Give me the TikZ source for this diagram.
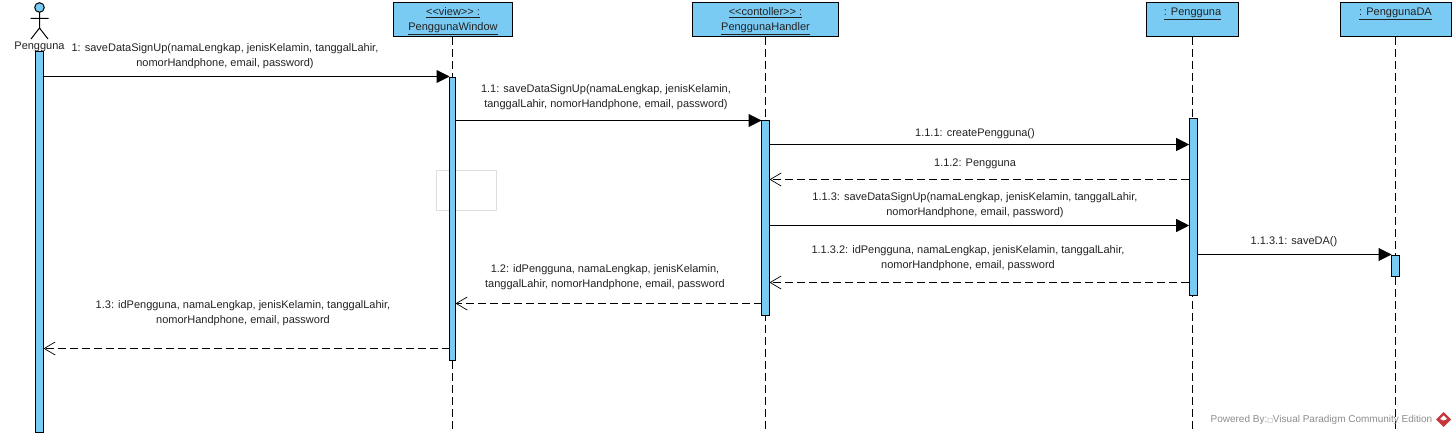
\documentclass[tikz,border=0pt]{standalone}
\usepackage{fontspec}
\setmainfont{Liberation Sans}
\newfontfamily\symfont{DejaVu Sans}
\usetikzlibrary{arrows.meta}
\definecolor{umlblue}{HTML}{7ACBF3}
\definecolor{umltext}{HTML}{222222}
\definecolor{logored}{HTML}{C4353C}
\tikzset{
  objbox/.style={draw=black,line width=1pt,fill=umlblue,outer sep=0pt,inner sep=0pt,minimum height=34.5pt,
    align=center,text=umltext,text height=22.5pt,text depth=0pt,font=\fontsize{11}{15}\selectfont},
  actbar/.style={draw=black,line width=1pt,fill=umlblue,outer sep=0pt,inner sep=0pt,minimum width=8pt},
  life/.style={line width=1pt,dash pattern=on 8pt off 4pt},
  call/.style={line width=1pt,-{Triangle[length=13pt,width=13pt]}},
  back/.style={line width=1pt,dash pattern=on 8pt off 4pt,-{Straight Barb[length=11pt,width=13pt,line width=.7pt]}},
  msg/.style={align=center,text=umltext,inner sep=0pt,font=\fontsize{11}{15}\selectfont}
}
\begin{document}
\begin{tikzpicture}[x=1pt,y=-1pt]
\useasboundingbox (0,0) rectangle (1456,436);
% faint empty frame behind the window bar
\node[draw=black!13,line width=1pt,minimum width=60pt,minimum height=40pt,inner sep=0pt] (ghostFrame) at (466.5,190.5) {};
% objects
\node[objbox,minimum width=119pt] (objWindow) at (453,19.75) {\underline{<{}<view>{}> :}\\\underline{PenggunaWindow}};
\node[objbox,minimum width=146pt] (objHandler) at (765.5,19.75) {\underline{<{}<contoller>{}> :}\\\underline{PenggunaHandler}};
\node[objbox,minimum width=91.5pt] (objUser) at (1192.5,19.75) {\underline{: Pengguna}\\~};
\node[objbox,minimum width=111pt] (objDA) at (1395.5,19.75) {\underline{: PenggunaDA}\\~};
% actor
\filldraw[draw=black,fill=umlblue,line width=1pt] (39.5,7.5) circle (4.8pt);
\draw[line width=1pt] (39.5,12.3) -- (39.5,28) (30.5,18.5) -- (48.5,18.5) (31,39) -- (39.5,28) -- (48,39);
\node[msg] (actorName) at (39.5,46.5) {Pengguna};
% lifelines
\coordinate (endWindow) at (452.5,431);
\coordinate (endHandler) at (765.5,431);
\coordinate (endUser) at (1192.5,431);
\coordinate (endDA) at (1395.5,431);
\draw[life] (objWindow.south -| endWindow) -- (endWindow);
\draw[life] (objHandler.south) -- (endHandler);
\draw[life] (objUser.south) -- (endUser);
\draw[life] (objDA.south) -- (endDA);
% activation bars
\node[actbar,minimum height=380pt] (barActor) at (39.5,242) {};
\node[actbar,minimum width=6pt,minimum height=283pt] (barWindow) at (452.5,218.5) {};
\node[actbar,minimum height=195pt] (barHandler) at (765.5,218) {};
\node[actbar,minimum height=177pt] (barUser) at (1193.2,206.5) {};
\node[actbar,minimum height=21pt] (barDA) at (1395.5,265.8) {};
% message heights
\coordinate (m1) at (0,76.5);
\coordinate (m11) at (0,120.5);
\coordinate (m111) at (0,144.5);
\coordinate (m112) at (0,179.5);
\coordinate (m113) at (0,225.5);
\coordinate (m1131) at (0,254.5);
\coordinate (m1132) at (0,282.5);
\coordinate (m12) at (0,303.5);
\coordinate (m13) at (0,348.5);
\draw[call] (barActor.east |- m1) -- (barWindow.west |- m1);
\draw[call] (barWindow.east |- m11) -- (barHandler.west |- m11);
\draw[call] (barHandler.east |- m111) -- (barUser.west |- m111);
\draw[back] (barUser.west |- m112) -- (barHandler.east |- m112);
\draw[call] (barHandler.east |- m113) -- (barUser.west |- m113);
\draw[call] (barUser.east |- m1131) -- (barDA.west |- m1131);
\draw[back] (barUser.west |- m1132) -- (barHandler.east |- m1132);
\draw[back] (barHandler.west |- m12) -- (barWindow.east |- m12);
\draw[back] (barWindow.west |- m13) -- (barActor.east |- m13);
% message labels
\node[msg] (txt1) at (225,56) {1: saveDataSignUp(namaLengkap, jenisKelamin, tanggalLahir,\\nomorHandphone, email, password)};
\node[msg] (txt11) at (606,97) {1.1: saveDataSignUp(namaLengkap, jenisKelamin,\\tanggalLahir, nomorHandphone, email, password)};
\node[msg] (txt111) at (975,133.5) {1.1.1: createPengguna()};
\node[msg] (txt112) at (975,164) {1.1.2: Pengguna};
\node[msg] (txt113) at (975,205.5) {1.1.3: saveDataSignUp(namaLengkap, jenisKelamin, tanggalLahir,\\nomorHandphone, email, password)};
\node[msg] (txt1131) at (1294,242) {1.1.3.1: saveDA()};
\node[msg] (txt1132) at (968,258) {1.1.3.2: idPengguna, namaLengkap, jenisKelamin, tanggalLahir,\\nomorHandphone, email, password};
\node[msg] (txt12) at (605,277.5) {1.2: idPengguna, namaLengkap, jenisKelamin,\\tanggalLahir, nomorHandphone, email, password};
\node[msg] (txt13) at (243,313) {1.3: idPengguna, namaLengkap, jenisKelamin, tanggalLahir,\\nomorHandphone, email, password};
% watermark
\node[msg,anchor=east,text=black!45,font=\fontsize{10}{15}\selectfont] (poweredBy) at (1432.5,420) {Powered By:{\symfont\fontsize{6}{6}\selectfont □}Visual Paradigm Community Edition};
\fill[logored] (1443.5,412) -- (1451,419.5) -- (1443.5,427) -- (1436,419.5) -- cycle;
\fill[white] (1440,419) -- (1443.5,415.5) -- (1447,419) -- (1443.5,420.5) -- cycle;
\end{tikzpicture}
\end{document}
